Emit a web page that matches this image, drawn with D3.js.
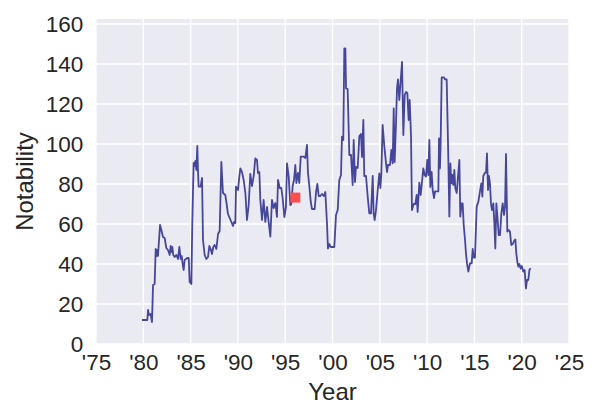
<!DOCTYPE html>
<html>
<head>
<meta charset="utf-8">
<script src="https://cdn.jsdelivr.net/npm/d3@7"></script>
<style>
  html, body { margin: 0; padding: 0; background: #ffffff; }
  svg { display: block; }
</style>
</head>
<body>
<svg id="chart" width="600" height="420"></svg>
<script>
// ---- data ----
const years = [
  1979.86, 1980.43, 1980.50, 1980.60, 1980.78, 1980.92, 1981.03, 1981.20, 1981.31, 1981.41,
  1981.48, 1981.55, 1981.77, 1981.91, 1982.08, 1982.26, 1982.43, 1982.61, 1982.79, 1982.89,
  1982.96, 1983.07, 1983.17, 1983.32, 1983.49, 1983.67, 1983.81, 1983.95, 1984.06, 1984.16,
  1984.27, 1984.37, 1984.65, 1984.80, 1984.90, 1985.08, 1985.18, 1985.32, 1985.43, 1985.50,
  1985.61, 1985.71, 1985.78, 1985.85, 1986.06, 1986.21, 1986.31, 1986.49, 1986.66, 1986.84,
  1986.98, 1987.12, 1987.26, 1987.40, 1987.54, 1987.72, 1987.90, 1988.07, 1988.25, 1988.42,
  1988.67, 1988.81, 1988.95, 1989.13, 1989.31, 1989.48, 1989.59, 1989.73,
  1989.80, 1990.01, 1990.15, 1990.26, 1990.43, 1990.61, 1990.79, 1990.96, 1991.14, 1991.31,
  1991.49, 1991.67, 1991.84, 1992.02, 1992.12, 1992.27, 1992.37, 1992.55, 1992.72, 1992.90,
  1993.08, 1993.25, 1993.43, 1993.60, 1993.78, 1993.96, 1994.13, 1994.24, 1994.42, 1994.59,
  1994.73, 1994.91, 1995.08, 1995.19, 1995.37, 1995.54, 1995.65, 1995.79, 1995.93, 1996.07,
  1996.18, 1996.35, 1996.49, 1996.64, 1996.95, 1997.13, 1997.30, 1997.41, 1997.55, 1997.69,
  1997.83, 1998.12, 1998.26, 1998.40, 1998.54, 1998.71, 1998.89, 1999.07, 1999.24, 1999.42,
  1999.52, 1999.67, 1999.81,
  2000.02, 2000.19, 2000.37, 2000.55, 2000.72, 2000.90, 2001.00, 2001.14, 2001.25, 2001.36,
  2001.43, 2001.60, 2001.78, 2001.96, 2002.13, 2002.24, 2002.38, 2002.48, 2002.66, 2002.84,
  2003.01, 2003.12, 2003.26, 2003.36, 2003.54, 2003.72, 2003.89, 2004.07, 2004.25, 2004.35,
  2004.46, 2004.60, 2004.78, 2004.95, 2005.06, 2005.16, 2005.30, 2005.48, 2005.66, 2005.76,
  2005.87, 2006.08, 2006.22, 2006.36, 2006.47, 2006.57, 2006.71, 2006.82, 2006.92, 2007.06,
  2007.21, 2007.35, 2007.49, 2007.63, 2007.77, 2007.91, 2008.05, 2008.16, 2008.30, 2008.40,
  2008.58, 2008.76, 2008.90, 2009.00, 2009.18, 2009.32, 2009.46, 2009.60, 2009.74, 2009.88,
  2010.02, 2010.13, 2010.24, 2010.34, 2010.48, 2010.59, 2010.73, 2010.84, 2011.19, 2011.26,
  2011.36, 2011.43, 2011.54, 2011.79, 2011.89, 2012.07, 2012.24, 2012.35, 2012.46, 2012.56,
  2012.67, 2012.77, 2012.88, 2012.98, 2013.13, 2013.27, 2013.41, 2013.51, 2013.65, 2013.76,
  2013.87, 2014.01, 2014.11, 2014.22, 2014.36, 2014.53, 2014.71, 2014.82, 2014.92, 2015.06,
  2015.24, 2015.42, 2015.59, 2015.73, 2015.84, 2015.94, 2016.12, 2016.23, 2016.33, 2016.44,
  2016.54, 2016.65, 2016.75, 2016.86, 2017.00, 2017.11, 2017.21, 2017.32, 2017.42, 2017.57,
  2017.71, 2017.85, 2017.99, 2018.13, 2018.24, 2018.34, 2018.48, 2018.62, 2018.76, 2018.90,
  2019.05, 2019.19, 2019.33, 2019.43, 2019.54, 2019.64, 2019.75, 2019.89, 2020.00, 2020.17,
  2020.31, 2020.45, 2020.56, 2020.70, 2020.82, 2020.95
];
const notability = [
  12, 12, 17, 14.5, 15, 11, 29.5, 30, 47.5, 44,
  47, 44, 59.5, 57, 53.5, 53, 48, 47, 44.5, 49,
  46, 48.5, 44.5, 43.5, 44.5, 42.5, 48.5, 42.5, 44, 40,
  37, 42, 43, 43, 31, 30, 60.5, 90.5, 89, 91.5,
  87, 99, 87, 78.7, 78.7, 83, 52, 44.5, 42.5, 43.5,
  49, 47.5, 45, 48.5, 49.5, 47.5, 55, 56.5, 91, 75.5,
  74.5, 70, 65, 63, 61, 59, 61, 60.5,
  78.7, 77, 83.7, 87.8, 86, 82, 75.5, 62, 69.5, 85,
  79, 84, 92.8, 92, 85.5, 86, 72, 62, 72, 61,
  68.5, 61, 53.7, 72, 68, 70.5, 63.5, 82, 78, 78,
  73, 63.5, 68.5, 90.3, 83.7, 69.5, 70, 79, 82, 89.5,
  80.5, 85.5, 80.5, 93.7, 93.7, 93, 99.5, 85.5, 79, 71.5,
  67.5, 67.5, 76, 80, 74, 74, 75, 74, 76, 60,
  47.8, 50, 48.5,
  48.5, 48.5, 64.5, 67, 82, 84.5, 103.7, 102, 147.8, 147.8,
  127.8, 127.5, 94.5, 94.5, 79.5, 102, 81, 88.5, 88, 104,
  105, 93.5, 112, 84, 84, 73.7, 65.3, 65.3, 84, 65.3,
  62, 67, 77, 85.3, 78, 85, 109.5, 98.7, 90.3, 86,
  89.5, 89.5, 97, 90.3, 117.8, 91, 110, 127.8, 132.3, 122,
  132, 141, 104.5, 124.5, 126, 125.5, 112, 122, 104, 67,
  70, 70, 74.5, 66, 80.7, 74.5, 81, 87.8, 84.5, 83.7,
  92, 84.5, 102, 78.5, 86, 77, 73, 76.3, 76.3, 102.8,
  87.8, 100.3, 133.3, 133.3, 132.3, 132.3, 93.7, 63.7, 90.3, 80.3,
  84.5, 79.5, 87, 78, 75.5, 84, 92, 63.7, 70.3, 70.3,
  59.5, 52, 45.3, 40.3, 36.2, 40.3, 40.3, 47.5, 43.2, 43.2,
  68.7, 71.2, 76.3, 80.3, 73.7, 84, 85.7, 85.7, 95.3, 77,
  84, 80, 70.3, 67, 70.3, 60.3, 47.8, 70.3, 64.5, 54.5,
  54.5, 65.3, 70.3, 64.5, 68.7, 95, 56.2, 57, 56.2, 49.5,
  50, 51.5, 52.3, 45.3, 41, 38.7, 40, 37.7, 39, 36.2,
  37, 27.8, 32, 32, 37.2, 37.8
];
const highlight = [{ year: 1996.07, value: 73.2 }];
const xTicks = [1975, 1980, 1985, 1990, 1995, 2000, 2005, 2010, 2015, 2020, 2025];
const xTickLabels = ["'75", "'80", "'85", "'90", "'95", "'00", "'05", "'10", "'15", "'20", "'25"];
const yTicks = [0, 20, 40, 60, 80, 100, 120, 140, 160];

// ---- layout ----
const svg = d3.select("#chart");
const margin = { left: 96, right: 31, top: 19, bottom: 76 };
const W = 600, H = 420;
const x = d3.scaleLinear().domain([1975, 2025]).range([margin.left, W - margin.right]);
const y = d3.scaleLinear().domain([0, 162.5]).range([H - margin.bottom, margin.top]);
const textColor = "#262626";
const font = "'Liberation Sans', Arial, Helvetica, sans-serif";

// background
svg.append("rect")
  .attr("x", x(1975)).attr("y", y(162.5))
  .attr("width", x(2025) - x(1975)).attr("height", y(0) - y(162.5))
  .attr("fill", "#eaeaf2");

// grid
const grid = svg.append("g").attr("stroke", "#ffffff").attr("stroke-width", 1.3);
grid.selectAll("line.v").data(xTicks).join("line").attr("class", "v")
  .attr("x1", d => x(d)).attr("x2", d => x(d))
  .attr("y1", y(0)).attr("y2", y(162.5));
grid.selectAll("line.h").data(yTicks).join("line").attr("class", "h")
  .attr("x1", x(1975)).attr("x2", x(2025))
  .attr("y1", d => y(d)).attr("y2", d => y(d));

// axes
const xAxis = d3.axisBottom(x).tickValues(xTicks)
  .tickFormat((d, i) => xTickLabels[i]).tickSize(0).tickPadding(10);
const yAxis = d3.axisLeft(y).tickValues(yTicks).tickFormat(d3.format("d"))
  .tickSize(0).tickPadding(12.7);

const gx = svg.append("g").attr("transform", `translate(0,${y(0)})`).call(xAxis);
const gy = svg.append("g").attr("transform", `translate(${x(1975)},0)`).call(yAxis);
[gx, gy].forEach(g => {
  g.select(".domain").remove();
  g.selectAll("text").attr("fill", textColor)
    .style("font-family", font).style("font-size", "22.5px");
});

// line
const pts = years.map((yr, i) => ({ year: yr, value: notability[i] }));
const line = d3.line().x(d => x(d.year)).y(d => y(d.value));
svg.append("path").datum(pts)
  .attr("fill", "none")
  .attr("stroke", "#46469a")
  .attr("stroke-width", 1.8)
  .attr("stroke-linejoin", "round")
  .attr("d", line);

// highlighted point
svg.selectAll("rect.hl").data(highlight).join("rect").attr("class", "hl")
  .attr("x", d => x(d.year) - 5).attr("y", d => y(d.value) - 5)
  .attr("width", 10).attr("height", 10)
  .attr("fill", "#ff4c4c");

// axis labels
svg.append("text")
  .attr("x", (x(1975) + x(2025)) / 2).attr("y", 400)
  .attr("text-anchor", "middle")
  .attr("fill", textColor)
  .style("font-family", font).style("font-size", "24px")
  .text("Year");
svg.append("text")
  .attr("transform", `translate(33,${(y(0) + y(162.5)) / 2}) rotate(-90)`)
  .attr("text-anchor", "middle")
  .attr("fill", textColor)
  .style("font-family", font).style("font-size", "24px")
  .text("Notability");
</script>
</body>
</html>
